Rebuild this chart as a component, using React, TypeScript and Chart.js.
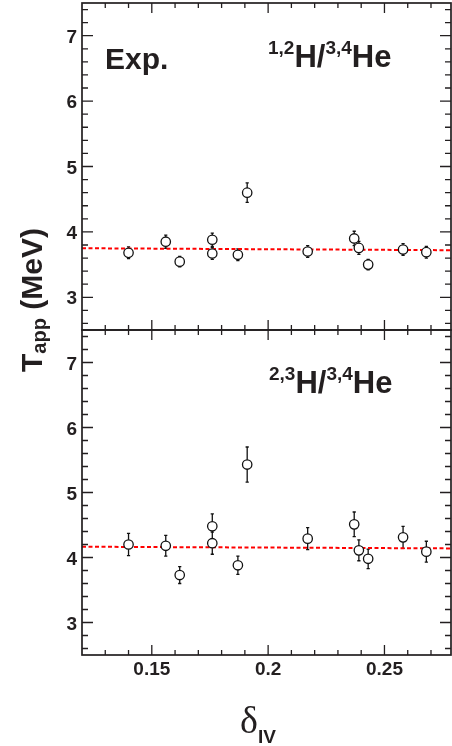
import React, { useEffect, useRef } from "react";
import { Chart, registerables } from "chart.js";
Chart.register(...registerables);

// ---- data ----
const deltaIV = [0.14, 0.156, 0.162, 0.176, 0.176, 0.187, 0.191, 0.217, 0.237, 0.239, 0.243, 0.258, 0.268];
const tTop = [3.68, 3.85, 3.545, 3.88, 3.67, 3.65, 4.6, 3.7, 3.9, 3.755, 3.5, 3.73, 3.69];
const tTopErr = [0.09, 0.1, 0.08, 0.1, 0.09, 0.09, 0.15, 0.09, 0.11, 0.1, 0.08, 0.09, 0.09];
const tBot = [4.2, 4.18, 3.73, 4.48, 4.22, 3.88, 5.43, 4.29, 4.51, 4.11, 3.98, 4.31, 4.09];
const tBotErr = [0.17, 0.16, 0.13, 0.19, 0.17, 0.14, 0.27, 0.17, 0.19, 0.16, 0.15, 0.17, 0.16];
const fitX = [0.12, 0.2786];
const fitTop = [3.75, 3.72];
const fitBot = [4.166, 4.14];
const xMajorTicks = [0.15, 0.2, 0.25];
const xTickLabels = ["0.15", "0.2", "0.25"];
const yMajorTicks = [3, 4, 5, 6, 7];
const yTickLabels = ["3", "4", "5", "6", "7"];
const X_MIN = 0.12;
const X_MAX = 0.2786;
const Y_MIN = 2.5;
const Y_MAX = 7.5;

const W = 452;
const H = 746;
const INK = "#231f20";
const SANS = "'Liberation Sans', Arial, Helvetica, sans-serif";
const SERIF = "'Liberation Serif', 'Times New Roman', serif";

type Part = { text: string; size: number; dy?: number; family?: string; weight?: string };

function drawRich(ctx: CanvasRenderingContext2D, x: number, y: number, parts: Part[]) {
  let cx = x;
  for (const p of parts) {
    ctx.font = `${p.weight ?? "bold"} ${p.size}px ${p.family ?? SANS}`;
    ctx.fillText(p.text, cx, y + (p.dy ?? 0));
    cx += ctx.measureText(p.text).width;
  }
}

const errorBarPlugin = (errs: number[]) => ({
  id: "errbars",
  beforeDatasetsDraw(chart: any) {
    const { ctx, scales } = chart;
    const ds = chart.data.datasets.find((d: any) => d.label === "data");
    if (!ds) return;
    ctx.save();
    ctx.strokeStyle = "#111";
    ctx.lineWidth = 1.3;
    ctx.beginPath();
    ds.data.forEach((pt: any, i: number) => {
      const px = scales.x.getPixelForValue(pt.x);
      const y1 = scales.y.getPixelForValue(pt.y - errs[i]);
      const y2 = scales.y.getPixelForValue(pt.y + errs[i]);
      ctx.moveTo(px, y1);
      ctx.lineTo(px, y2);
      ctx.moveTo(px - 1.6, y1);
      ctx.lineTo(px + 1.6, y1);
      ctx.moveTo(px - 1.6, y2);
      ctx.lineTo(px + 1.6, y2);
    });
    ctx.stroke();
    ctx.restore();
  },
});

const framePlugin = (showX: boolean, extra: (ctx: CanvasRenderingContext2D, chart: any) => void) => ({
  id: "frame",
  afterDraw(chart: any) {
    const { ctx, chartArea: a, scales } = chart;
    const xs = scales.x;
    const ys = scales.y;
    ctx.save();
    ctx.strokeStyle = INK;
    ctx.lineWidth = 1.3;
    ctx.beginPath();
    for (let k = 13; k <= 37; k++) {
      const v = k * 0.2;
      const len = k % 5 === 0 ? 11 : 6;
      const py = ys.getPixelForValue(v);
      ctx.moveTo(a.left, py);
      ctx.lineTo(a.left + len, py);
      ctx.moveTo(a.right, py);
      ctx.lineTo(a.right - len, py);
    }
    for (let k = 13; k <= 27; k++) {
      const v = k * 0.01;
      const len = k % 5 === 0 ? 10 : 5;
      const px = xs.getPixelForValue(v);
      ctx.moveTo(px, a.top);
      ctx.lineTo(px, a.top + len);
      ctx.moveTo(px, a.bottom);
      ctx.lineTo(px, a.bottom - len);
    }
    ctx.stroke();
    ctx.lineWidth = 1.7;
    ctx.strokeRect(a.left, a.top, a.right - a.left, a.bottom - a.top);

    ctx.fillStyle = INK;
    ctx.font = `bold 19px ${SANS}`;
    ctx.textBaseline = "alphabetic";
    // y tick labels
    ctx.textAlign = "right";
    yMajorTicks.forEach((v, i) => {
      ctx.fillText(yTickLabels[i], a.left - 5, ys.getPixelForValue(v) + 7);
    });
    // x tick labels
    if (showX) {
      ctx.textAlign = "center";
      xMajorTicks.forEach((v, i) => {
        ctx.fillText(xTickLabels[i], xs.getPixelForValue(v), a.bottom + 20);
      });
    }
    ctx.textAlign = "left";
    extra(ctx, chart);
    ctx.restore();
  },
});

function makeConfig(values: number[], errs: number[], fit: number[], top: boolean, extra: any) {
  return {
    type: "scatter" as const,
    data: {
      datasets: [
        {
          label: "data",
          data: deltaIV.map((x, i) => ({ x, y: values[i] })),
          pointRadius: 4.7,
          pointBorderWidth: 1.3,
          borderColor: "#111",
          backgroundColor: "#ffffff",
          pointStyle: "circle",
          showLine: false,
          order: 0,
        },
        {
          label: "fit",
          type: "line" as const,
          data: fitX.map((x, i) => ({ x, y: fit[i] })),
          borderColor: "#ff0000",
          borderWidth: 2,
          borderDash: [4, 2.5],
          pointRadius: 0,
          fill: false,
          order: 1,
        },
      ],
    },
    options: {
      animation: false,
      responsive: false,
      devicePixelRatio: 1,
      events: [],
      layout: {
        autoPadding: false,
        padding: top
          ? { top: 3, right: 1, bottom: H - 330, left: 82 }
          : { top: 330, right: 1, bottom: H - 655, left: 82 },
      },
      plugins: { legend: { display: false }, tooltip: { enabled: false } },
      scales: {
        x: { type: "linear", min: X_MIN, max: X_MAX, display: false },
        y: { type: "linear", min: Y_MIN, max: Y_MAX, display: false },
      },
    },
    plugins: [errorBarPlugin(errs), framePlugin(!top, extra)],
  };
}

const drawTopLabels = (ctx: CanvasRenderingContext2D) => {
  drawRich(ctx, 105, 69, [{ text: "Exp.", size: 30 }]);
  drawRich(ctx, 268, 67, [
    { text: "1,2", size: 19, dy: -13.5 },
    { text: "H/", size: 31 },
    { text: "3,4", size: 19, dy: -13.5 },
    { text: "He", size: 31 },
  ]);
};

const drawBottomLabels = (ctx: CanvasRenderingContext2D) => {
  drawRich(ctx, 269, 393, [
    { text: "2,3", size: 19, dy: -13.5 },
    { text: "H/", size: 31 },
    { text: "3,4", size: 19, dy: -13.5 },
    { text: "He", size: 31 },
  ]);
  // x-axis title
  drawRich(ctx, 240, 733, [
    { text: "δ", size: 38, family: SERIF, weight: "normal" },
    { text: "IV", size: 19, dy: 10 },
  ]);
  // y-axis title (rotated)
  ctx.save();
  ctx.translate(42, 372);
  ctx.rotate(-Math.PI / 2);
  drawRich(ctx, 0, 0, [
    { text: "T", size: 30 },
    { text: "app", size: 20, dy: 4 },
    { text: " (MeV)", size: 30 },
  ]);
  ctx.restore();
};

export default function App() {
  const topRef = useRef<HTMLCanvasElement>(null);
  const botRef = useRef<HTMLCanvasElement>(null);

  useEffect(() => {
    const c1 = new Chart(topRef.current as HTMLCanvasElement, makeConfig(tTop, tTopErr, fitTop, true, drawTopLabels) as any);
    const c2 = new Chart(botRef.current as HTMLCanvasElement, makeConfig(tBot, tBotErr, fitBot, false, drawBottomLabels) as any);
    return () => {
      c1.destroy();
      c2.destroy();
    };
  }, []);

  const cs: React.CSSProperties = {
    position: "absolute",
    left: 0,
    top: 0,
    width: W,
    height: H,
    display: "block",
  };

  return (
    <div style={{ position: "fixed", left: 0, top: 0, width: W, height: H, background: "#fff" }}>
      <canvas ref={topRef} width={W} height={H} style={cs} />
      <canvas ref={botRef} width={W} height={H} style={cs} />
    </div>
  );
}
